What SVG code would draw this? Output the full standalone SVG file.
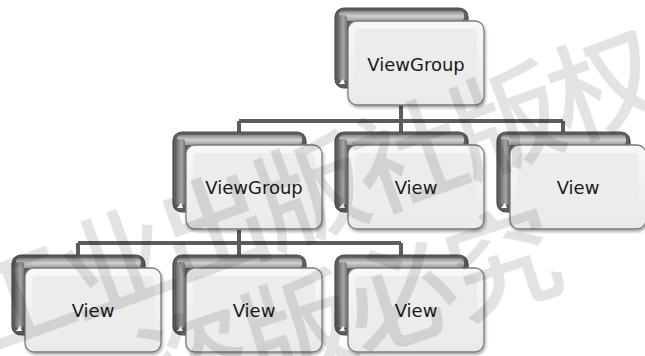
<svg xmlns="http://www.w3.org/2000/svg" width="645" height="356" viewBox="0 0 645 356">
<style>
.back{fill:#5f5f5f;stroke:#4a4a4a;stroke-width:1.2}
.topband{fill:url(#bandV)}
.leftband{fill:url(#bandH)}
.notch{fill:#ffffff}
.front{fill:url(#frontG);stroke:#7c7c7c;stroke-width:1.3;filter:url(#shadow)}
.inner{fill:#ececec;stroke:none}
.label{font-family:"DejaVu Sans","Liberation Sans",sans-serif;font-size:18px;fill:#1a1a1a;text-anchor:middle}
.conn{fill:none;stroke:#5c5c5c;stroke-width:4;stroke-linejoin:miter}
.wm{font-family:"Noto Sans CJK SC","Noto Sans",sans-serif;font-weight:500;fill:#000;fill-opacity:0.11;text-anchor:middle;dominant-baseline:central}
</style>
<defs>
<linearGradient id="bandV" x1="0" y1="0" x2="0" y2="1">
<stop offset="0" stop-color="#8a8a8a"/>
<stop offset="0.5" stop-color="#d2d2d2"/>
<stop offset="1" stop-color="#9a9a9a"/>
</linearGradient>
<linearGradient id="bandH" x1="0" y1="0" x2="1" y2="0">
<stop offset="0" stop-color="#6a6a6a"/>
<stop offset="0.6" stop-color="#a5a5a5"/>
<stop offset="1" stop-color="#777"/>
</linearGradient>
<linearGradient id="frontG" x1="0" y1="0" x2="0" y2="1">
<stop offset="0" stop-color="#f8f8f8"/>
<stop offset="1" stop-color="#e9e9e9"/>
</linearGradient>
<filter id="shadow" x="-10%" y="-10%" width="130%" height="130%">
<feDropShadow dx="1" dy="2" stdDeviation="1.5" flood-color="#000" flood-opacity="0.35"/>
</filter>
<g id="card">
<rect class="back" x="-13" y="-13" width="133" height="80" rx="9"/>
<rect class="topband" x="-9" y="-10" width="125" height="10" rx="4"/>
<rect class="leftband" x="-10" y="-6" width="9" height="66" rx="3"/>
<path class="notch" d="M-9,63 L-5,58 L-3,63 Z"/>
<rect class="front" x="0" y="0" width="136" height="84" rx="9"/>
<rect class="inner" x="7" y="8" width="122" height="68" rx="5"/>
</g>
</defs>

<g id="connectors">
<path class="conn" d="M401,105 V121 M239,121 H563 M239,121 V132 M401,121 V132 M563,121 V132"/>
<path class="conn" d="M239,230 V243 M78,243 H401 M78,243 V255 M239,243 V255 M401,243 V255"/>
</g>

<g id="root">
<use href="#card" x="348" y="21"/>
<text class="label" x="416" y="71">ViewGroup</text>
</g>
<g id="group2">
<use href="#card" x="186" y="145"/>
<text class="label" x="254" y="194">ViewGroup</text>
</g>
<g id="view-a">
<use href="#card" x="348" y="145"/>
<text class="label" x="416" y="194">View</text>
</g>
<g id="view-b">
<use href="#card" x="510" y="145"/>
<text class="label" x="578" y="194">View</text>
</g>
<g id="view-c">
<use href="#card" x="25" y="268"/>
<text class="label" x="93" y="317">View</text>
</g>
<g id="view-d">
<use href="#card" x="186" y="268"/>
<text class="label" x="254" y="317">View</text>
</g>
<g id="view-e">
<use href="#card" x="348" y="268"/>
<text class="label" x="416" y="317">View</text>
</g>

<g id="watermark">
<text class="wm" font-size="110" letter-spacing="-6" transform="translate(306,186) rotate(-20)">工业出版社版权</text>
<text class="wm" font-size="112" letter-spacing="-4" transform="translate(345,306) rotate(-18)">盗版必究</text>
</g>
</svg>
